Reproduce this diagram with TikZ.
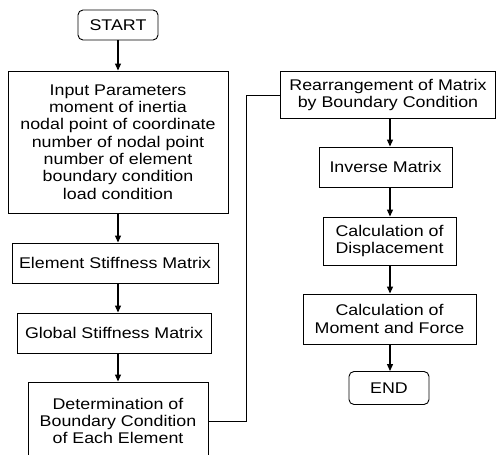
\documentclass[tikz,border=0pt]{standalone}
\usepackage{fontspec}
\setmainfont{Liberation Sans}[FakeStretch=1.15]
\usetikzlibrary{arrows.meta}
\tikzset{
  box/.style={draw,line width=0.9pt,align=center,inner sep=0pt,
    font=\fontsize{15.5}{17.3}\selectfont},
  term/.style={box,rounded corners=5pt},
  flow/.style={line width=1.1pt,-{Triangle[length=7pt,width=6pt]}}
}
\begin{document}
\begin{tikzpicture}[x=1pt,y=-1pt]
                \useasboundingbox (0,0) rectangle (496,455);
                \node [term,minimum width=80pt,minimum height=30pt] (start) at (118,25) {START};
                \node [box,minimum width=220pt,minimum height=142pt] (input) at (118,142) {Input Parameters\\moment of inertia\\nodal point of coordinate\\number of nodal point\\number of element\\boundary condition\\load condition};
                \node [box,minimum width=206pt,minimum height=40pt] (elem) at (115,263) {Element Stiffness Matrix};
                \node [box,minimum width=194pt,minimum height=40pt] (glob) at (114,333) {Global Stiffness Matrix};
                \node [box,minimum width=180pt,minimum height=78pt] (det) at (118,421) {Determination of\\Boundary Condition\\of Each Element};
                \node [box,minimum width=215pt,minimum height=47pt] (rearr) at (388,95) {Rearrangement of Matrix\\by Boundary Condition};
                \node [box,minimum width=133pt,minimum height=40pt] (inv) at (385.5,167) {Inverse Matrix};
                \node [box,minimum width=133pt,minimum height=48pt] (disp) at (389.5,241) {Calculation of\\Displacement};
                \node [box,minimum width=173pt,minimum height=50pt] (mom) at (389.5,319) {Calculation of\\Moment and Force};
                \node [term,minimum width=80pt,minimum height=33pt] (end) at (389,388) {END};
                \coordinate (turn) at (246,0);
                \coordinate (lcol) at (118,0);
                \coordinate (rcol) at (390,0);
                \draw [flow] (start) -- (input);
                \draw [flow] (input.south -| lcol) -- (elem.north -| lcol);
                \draw [flow] (elem.south -| lcol) -- (glob.north -| lcol);
                \draw [flow] (glob.south -| lcol) -- (det.north -| lcol);
                \draw [line width=0.9pt] (det.east) -- (det.east -| turn) |- (rearr.west);
                \draw [flow] (rearr.south -| rcol) -- (inv.north -| rcol);
                \draw [flow] (inv.south -| rcol) -- (disp.north -| rcol);
                \draw [flow] (disp.south -| rcol) -- (mom.north -| rcol);
                \draw [flow] (mom.south -| rcol) -- (end.north -| rcol);
            \end{tikzpicture}
\end{document}
